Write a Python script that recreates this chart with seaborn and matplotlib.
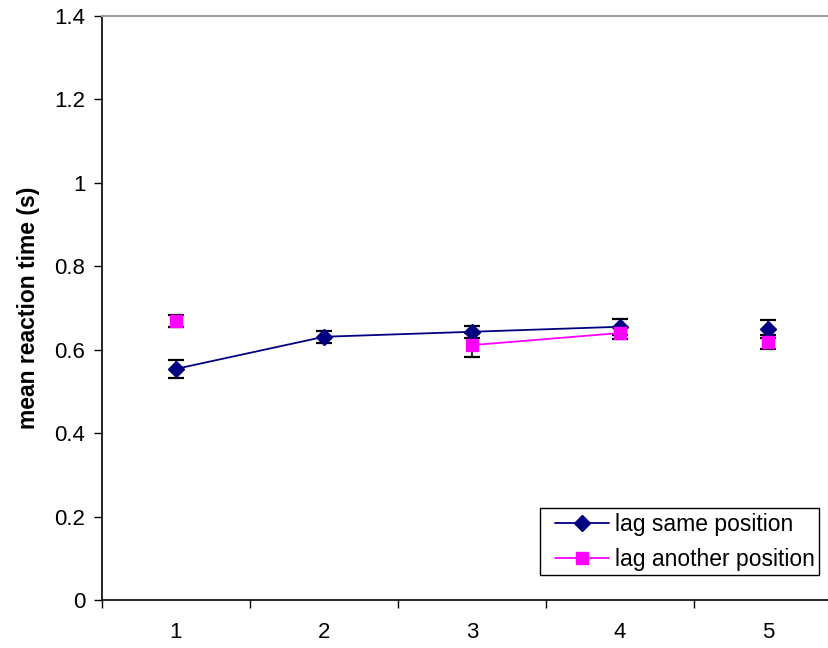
import numpy as np
import pandas as pd
import matplotlib
matplotlib.use("Agg")
import matplotlib.pyplot as plt
import seaborn as sns
from matplotlib.legend_handler import HandlerLine2D

# data
lags = [1, 2, 3, 4, 5]
same_mean = [0.554, 0.631, 0.643, 0.655, 0.650]
same_err = [0.022, 0.015, 0.015, 0.019, 0.021]
same_linked = [True, True, True, True, False]
other_mean = [0.669, np.nan, 0.611, 0.640, 0.619]
other_err = [0.015, np.nan, 0.028, 0.014, 0.017]
other_linked = [False, False, True, True, False]

sns.set_theme(style="white")
plt.rcParams['font.family'] = ['Liberation Sans', 'DejaVu Sans']

fig = plt.figure(figsize=(8.29, 6.48), dpi=100)
ax = fig.add_axes([0.123, 0.0741, 0.8927, 0.9012])

series = [
    ("lag same position", same_mean, same_err, same_linked, "#000080", "D", 8.5),
    ("lag another position", other_mean, other_err, other_linked, "#FF00FF", "s", 8.5),
]

for name, m, e, linked, col, mk, ms in series:
    df = pd.DataFrame({"lag": lags, "rt": m, "err": e, "linked": linked})
    ax.errorbar(df["lag"], df["rt"], yerr=df["err"], fmt="none",
                ecolor="black", elinewidth=1.2, capsize=6, capthick=1.6, zorder=2)
    seg = df[df["linked"]]
    sns.lineplot(data=seg, x="lag", y="rt", color=col, lw=1.3, ax=ax,
                 legend=False, zorder=3)
    ax.plot(df["lag"], df["rt"], ls="none", marker=mk, ms=ms, color=col,
            mec=col, zorder=4)
    # legend handle
    ax.plot([], [], color=col, lw=1.3, marker=mk, ms=ms, label=name)

ax.set_xlim(0.5, 5.5)
ax.set_ylim(0, 1.4)
ax.set_yticks(np.arange(0, 1.41, 0.2))
ax.set_yticklabels(["0", "0.2", "0.4", "0.6", "0.8", "1", "1.2", "1.4"])
ax.set_xticks(lags)
ax.set_xticklabels([str(l) for l in lags])
ax.set_xticks([0.5, 1.5, 2.5, 3.5, 4.5, 5.5], minor=True)
ax.tick_params(axis="x", which="major", length=0, labelsize=16, pad=16, colors="black")
ax.tick_params(axis="x", which="minor", length=6, width=1, direction="out", bottom=True, color="black")
ax.tick_params(axis="y", length=6, width=1, direction="out", left=True, labelsize=16, pad=6, colors="black")

ax.set_xlabel("")
ax.set_ylabel("mean reaction time (s)", fontsize=16.5, fontweight="bold", labelpad=10,
              color="black")

for s in ["left", "bottom"]:
    ax.spines[s].set_color("black")
    ax.spines[s].set_linewidth(1.2)
ax.spines["top"].set_color("#999999")
ax.spines["top"].set_linewidth(1.5)
ax.spines["right"].set_visible(False)

leg = ax.legend(loc="lower right", bbox_to_anchor=(0.969, 0.042), fontsize=16.5,
                frameon=True, fancybox=False, edgecolor="black", framealpha=1,
                handlelength=2.8, borderpad=0.2, labelspacing=0.52, handletextpad=0.26,
                borderaxespad=0, handler_map={plt.Line2D: HandlerLine2D(xpad=0.46)})
leg.get_frame().set_linewidth(1)
for t in leg.get_texts():
    t.set_color("black")

fig.savefig("out.png", dpi=100)
